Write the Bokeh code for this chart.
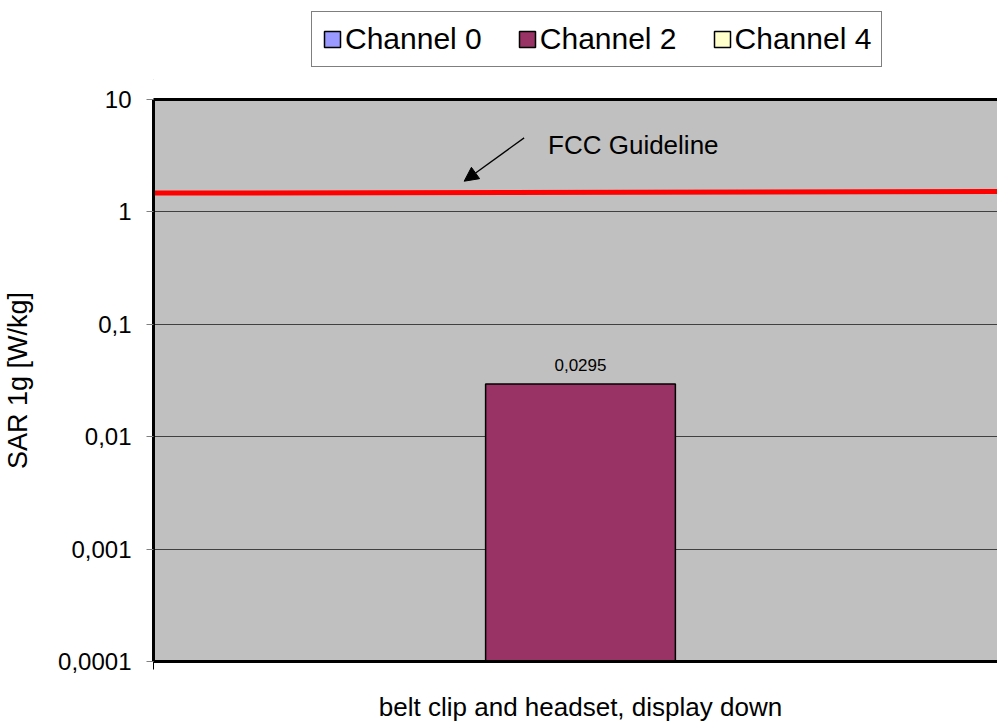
import math
from bokeh.plotting import figure
from bokeh.layouts import column
from bokeh.models import (ColumnDataSource, FixedTicker, LinearAxis, Legend, LegendItem,
                          Label, LabelSet, Arrow, NormalHead, Range1d)
from bokeh.core.properties import value
from bokeh.embed import file_html
from bokeh.resources import INLINE

# ---------------- data ----------------
categories = ["belt clip and headset, display down"]
channels = ["Channel 0", "Channel 2", "Channel 4"]
channel_colors = ["#9999FF", "#993366", "#FFFFCC"]
channel0_sar = [float("nan")]
channel2_sar = [0.0295]
channel4_sar = [float("nan")]
fcc_level = [1.47, 1.52]          # FCC guideline line (left end, right end)
y_ticks = [0.0001, 0.001, 0.01, 0.1, 1, 10]
y_tick_labels = ["0,0001", "0,001", "0,01", "0,1", "1", "10"]

series = [channel0_sar, channel2_sar, channel4_sar]

# ---------------- layout ----------------
FONT = "Liberation Sans"
W = 997
LEG_H = 80                          # height of the legend strip above the chart
H = 724 - LEG_H
LEFT, TOP, BOTTOM = 152, 19, 54
BAR_PX = 190.0                      # pixel width of one bar
GAP = 1.5                           # gap width (in bar widths) between categories
CAT_W = len(channels) + GAP         # category width in bar units
frame_w = W - LEFT
y_min, y_max = y_ticks[0], y_ticks[-1]

x_start = -CAT_W / 2
x_end = x_start + frame_w / BAR_PX


def key(v):
    return int(v) if float(v).is_integer() else v


p = figure(width=W, height=H, y_axis_type="log",
           x_range=Range1d(x_start, x_end), y_range=Range1d(y_min, y_max),
           output_backend="svg", toolbar_location=None,
           min_border_left=LEFT, min_border_right=0, min_border_top=TOP,
           min_border_bottom=BOTTOM)
p.background_fill_color = "#C0C0C0"
p.border_fill_color = "white"
p.outline_line_color = None

# bars
sources = []
label_x, label_y, label_txt = [], [], []
cat_centers = [ci * CAT_W for ci in range(len(categories))]
for k, (ch, col, vals) in enumerate(zip(channels, channel_colors, series)):
    xs = [c + (k - (len(channels) - 1) / 2) for c in cat_centers]
    src = ColumnDataSource(dict(x=xs, top=vals, bottom=[y_min] * len(vals)))
    sources.append(src)
    p.vbar(x="x", top="top", bottom="bottom", width=1.0, source=src,
           fill_color=col, line_color="black", line_width=1.5)
    for xv, v in zip(xs, vals):
        if not math.isnan(v):
            label_x.append(xv)
            label_y.append(v)
            label_txt.append(f"{v:g}".replace(".", ","))

lab_src = ColumnDataSource(dict(x=label_x, y=label_y, t=label_txt))
p.add_layout(LabelSet(x="x", y="y", text="t", source=lab_src, y_offset=12.5,
                      text_align="center", text_baseline="alphabetic",
                      text_font=value(FONT), text_font_size="17px", text_color="black"))

# FCC guideline line
cat_left = cat_centers[0] - CAT_W / 2
cat_right = cat_centers[-1] + CAT_W / 2
p.line(x=[cat_left, cat_right], y=fcc_level, line_color="#FF0000", line_width=5)

# FCC annotation
p.add_layout(Label(x=-0.171, y=3.90, text="FCC Guideline", text_font=FONT,
                   text_font_size="26px", text_baseline="alphabetic", text_color="black"))
p.add_layout(Arrow(end=NormalHead(size=14, fill_color="black", line_color="black"),
                   x_start=-0.297, y_start=4.556, x_end=-0.613, y_end=1.876,
                   line_color="black", line_width=1.3))

# y axis
ya = p.yaxis[0]
ya.ticker = FixedTicker(ticks=y_ticks, minor_ticks=[])
ya.major_label_overrides = {key(t): l for t, l in zip(y_ticks, y_tick_labels)}
ya.major_label_text_font = FONT
ya.major_label_text_font_size = "24px"
ya.major_label_text_color = "black"
ya.major_label_standoff = 15
ya.major_tick_out = 7
ya.major_tick_in = 0
ya.major_tick_line_color = "#808080"
ya.axis_line_color = "black"
ya.axis_line_width = 3
ya.axis_label = "SAR 1g [W/kg]"
ya.axis_label_text_font = FONT
ya.axis_label_text_font_size = "27px"
ya.axis_label_text_font_style = "normal"
ya.axis_label_text_color = "black"
ya.axis_label_standoff = 22

# x axis (category labels)
xa = p.xaxis[0]
bounds = []
for c in cat_centers:
    bounds += [c - CAT_W / 2, c + CAT_W / 2]
xa.ticker = FixedTicker(ticks=cat_centers, minor_ticks=bounds)
xa.major_label_overrides = {key(c): cat for c, cat in zip(cat_centers, categories)}
xa.major_label_text_font = FONT
xa.major_label_text_font_size = "26px"
xa.major_label_text_color = "black"
xa.major_label_standoff = 22
xa.major_tick_out = 0
xa.major_tick_in = 0
xa.major_tick_line_color = None
xa.minor_tick_out = 8
xa.minor_tick_in = 0
xa.minor_tick_line_color = "black"
xa.axis_line_color = "black"
xa.axis_line_width = 3

# top border
top_axis = LinearAxis(ticker=FixedTicker(ticks=[], minor_ticks=[]),
                      major_label_text_font_size="0px", major_label_standoff=0,
                      major_tick_out=0, major_tick_in=0, minor_tick_out=0, minor_tick_in=0,
                      major_tick_line_color=None, minor_tick_line_color=None,
                      axis_line_color="black", axis_line_width=3)
p.add_layout(top_axis, "above")

# grid
p.xgrid.visible = False
p.ygrid.ticker = FixedTicker(ticks=y_ticks)
p.ygrid.grid_line_color = "#404040"
p.ygrid.grid_line_width = 1

# ---------------- legend strip ----------------
# ranges placed away from the data so the shared bar sources draw nothing here
lg = figure(width=W, height=LEG_H, x_range=Range1d(100, 101), y_range=Range1d(100, 101),
            output_backend="svg", toolbar_location=None,
            min_border_left=0, min_border_right=0, min_border_top=0, min_border_bottom=0)
lg.axis.visible = False
lg.grid.visible = False
lg.outline_line_color = None
lg.background_fill_color = "white"
lg.border_fill_color = "white"
leg_items = []
for ch, col, src in zip(channels, channel_colors, sources):
    r = lg.vbar(x="x", top="top", bottom="bottom", width=1.0, source=src,
                fill_color=col, line_color="black", line_width=1.5)
    leg_items.append(LegendItem(label=ch, renderers=[r]))

LEG_BOX_H = 55
LEG_LEFT = 310                      # page x of the legend box
legend = Legend(items=leg_items, orientation="horizontal",
                location=(LEG_LEFT - LEFT, LEG_H - 12 - LEG_BOX_H),
                label_text_font=FONT, label_text_font_size="30px", label_text_color="black",
                glyph_width=20, glyph_height=20, label_standoff=3, spacing=35,
                padding=10, margin=0,
                border_line_color="black", border_line_width=1,
                background_fill_color="white", background_fill_alpha=1.0)
lg.add_layout(legend)

layout = column(lg, p, spacing=0)
open("out.html", "w").write(file_html(layout, INLINE))
